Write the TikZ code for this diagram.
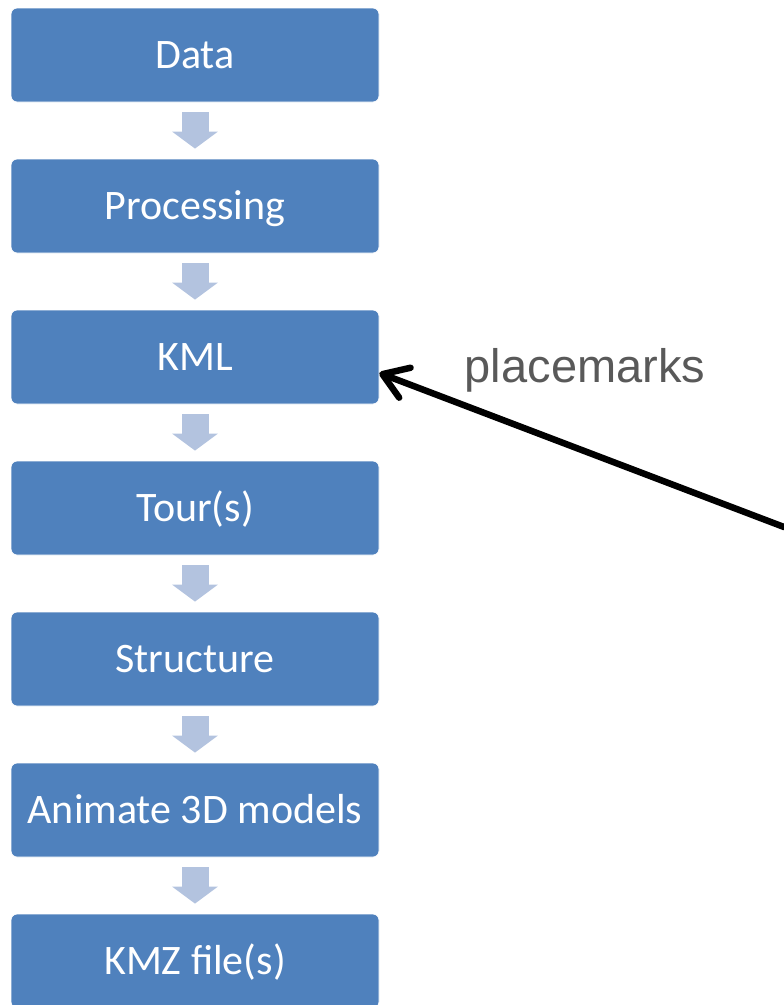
\documentclass[tikz,border=0pt]{standalone}
\usepackage{fontspec}
\setmainfont{Carlito}
\newfontfamily\arialfont{Liberation Sans}
\usetikzlibrary{positioning,arrows.meta}
\definecolor{boxblue}{HTML}{4F81BD}
\definecolor{arrowblue}{HTML}{B3C3DF}
\definecolor{labelgray}{HTML}{595959}
\tikzset{
  stepbox/.style={fill=boxblue,draw=white,line width=.8pt,rounded corners=6pt,
    minimum width=368pt,minimum height=94pt,inner sep=0pt,
    text=white,text height=27pt,text depth=0pt,
    font=\fontsize{42}{50}\selectfont},
  flow/.style={arrowblue,line width=27pt,shorten <=10pt,shorten >=10pt,
    -{Triangle[length=17pt,width=45pt]}},
}
\begin{document}
\begin{tikzpicture}[x=1pt,y=-1pt,node distance=56.2pt]
      \useasboundingbox (0,0) rectangle (784,1005);
      \node[stepbox] (data) at (195,55) {Data};
      \node[stepbox,below=of data] (proc) {Processing};
      \node[stepbox,below=of proc] (kml) {KML};
      \node[stepbox,below=of kml] (tour) {Tour(s)};
      \node[stepbox,below=of tour] (struct) {Structure};
      \node[stepbox,below=of struct] (anim) {Animate 3D models};
      \node[stepbox,below=of anim] (kmz) {KMZ file(s)};
      \draw[flow](data.south)--(proc.north);
      \draw[flow](proc.south)--(kml.north);
      \draw[flow](kml.south)--(tour.north);
      \draw[flow](tour.south)--(struct.north);
      \draw[flow](struct.south)--(anim.north);
      \draw[flow](anim.south)--(kmz.north);
      % pointer from the right edge
      \coordinate (src) at (784,527);
      \node[anchor=base,text=labelgray,font=\arialfont\fontsize{47}{56}\selectfont] (pm) at (585,382) {placemarks};
      \draw[line width=6.5pt,line cap=round,-{Straight Barb[length=24pt,width=32pt,line cap=round,line join=round]}](src)--([yshift=-16pt]kml.east);
\end{tikzpicture}
\end{document}
